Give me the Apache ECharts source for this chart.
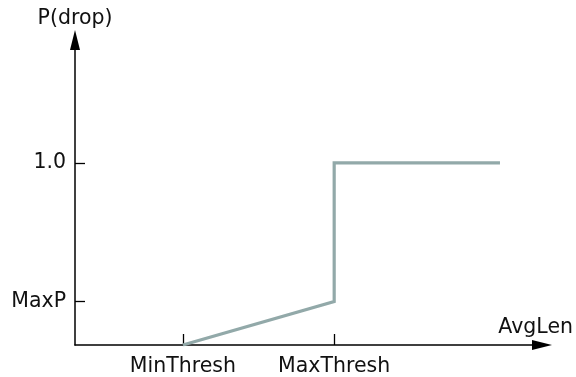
<!DOCTYPE html>
<html>
<head>
<meta charset="utf-8">
<script src="https://cdn.jsdelivr.net/npm/echarts@6/dist/echarts.min.js"></script>
<style>
html,body{margin:0;padding:0;background:#fff;}
#chart{width:576px;height:377px;}
</style>
</head>
<body>
<div id="chart"></div>
<script>
// Data
var xTickValues = [23.1, 55.5];
var xTickLabels = ['MinThresh', 'MaxThresh'];
var yTickValues = [0.239, 1.0];
var yTickLabels = ['MaxP', '1.0'];
var curveX = [23.1, 55.5, 55.5, 91.0];
var curveY = [0, 0.239, 1.0, 1.0];
var xName = 'AvgLen';
var yName = 'P(drop)';

var FONT = 'DejaVu Sans';
var FS = 20.5;

function lookup(vals, labels) {
  return function (v) {
    for (var i = 0; i < vals.length; i++) {
      if (Math.abs(vals[i] - v) < 1e-6) return labels[i];
    }
    return '';
  };
}

var chart = echarts.init(document.getElementById('chart'), null, {renderer: 'canvas'});
var points = curveX.map(function (x, i) { return [x, curveY[i]]; });

chart.setOption({
  animation: false,
  backgroundColor: '#ffffff',
  grid: {left: 75, right: 34, top: 40, bottom: 29, containLabel: false},
  xAxis: {
    type: 'value', min: 0, max: 100,
    name: xName,
    nameLocation: 'end',
    nameGap: 31,
    nameTextStyle: {fontFamily: FONT, fontSize: FS, color: '#111', align: 'right', verticalAlign: 'bottom', padding: [0, 0, 7, 0]},
    splitLine: {show: false},
    axisLine: {show: true, onZero: false, symbol: ['none', 'triangle'], symbolSize: [10, 20], lineStyle: {color: '#000', width: 1.5}},
    axisTick: {show: true, inside: true, length: 11, customValues: xTickValues, lineStyle: {color: '#000', width: 1.3}},
    axisLabel: {show: true, customValues: xTickValues, formatter: lookup(xTickValues, xTickLabels), fontFamily: FONT, fontSize: FS, color: '#111', margin: 11}
  },
  yAxis: {
    type: 'value', min: 0, max: 1.674,
    name: yName,
    nameLocation: 'end',
    nameGap: 11,
    nameTextStyle: {fontFamily: FONT, fontSize: FS, color: '#111'},
    splitLine: {show: false},
    axisLine: {show: true, onZero: false, symbol: ['none', 'triangle'], symbolSize: [10, 20], lineStyle: {color: '#000', width: 1.5}},
    axisTick: {show: true, inside: true, length: 10, customValues: yTickValues, lineStyle: {color: '#000', width: 1.3}},
    axisLabel: {show: true, customValues: yTickValues, formatter: lookup(yTickValues, yTickLabels), fontFamily: FONT, fontSize: FS, color: '#111', margin: 9}
  },
  series: [{
    type: 'line',
    data: points,
    showSymbol: false,
    symbol: 'none',
    lineStyle: {color: '#92a9a9', width: 3.2, join: 'miter'},
    z: 3
  }]
});
</script>
</body>
</html>
